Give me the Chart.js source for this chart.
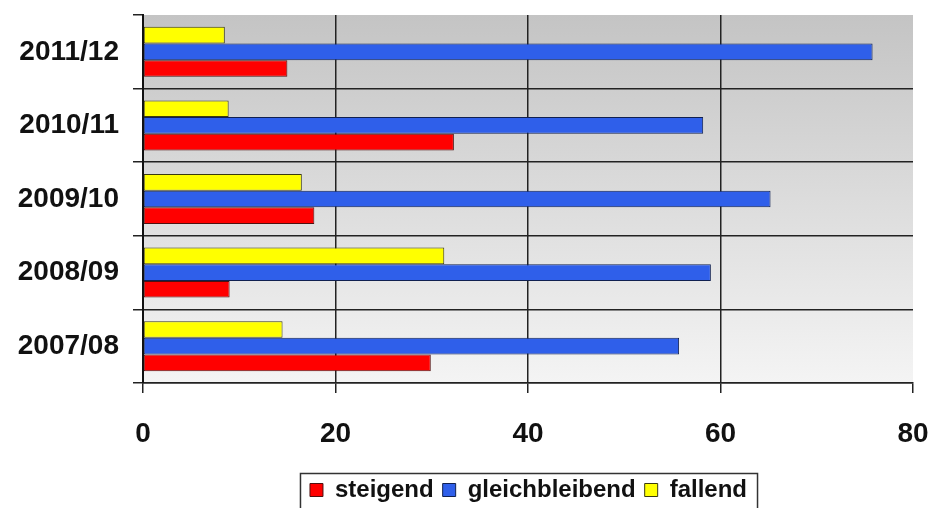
<!DOCTYPE html>
<html>
<head>
<meta charset="utf-8">
<script src="https://cdn.jsdelivr.net/npm/chart.js@4"></script>
<style>
  html, body { margin: 0; padding: 0; background: #fff; }
  #wrap { width: 931px; height: 508px; }
</style>
</head>
<body>
<div id="wrap"><canvas id="chart" width="931" height="508"></canvas></div>
<script>
// seasons, top to bottom as in the picture
const seasons = ['2011/12', '2010/11', '2009/10', '2008/09', '2007/08'];
const steigend = [15.0, 32.3, 17.8, 9.0, 29.9];
const gleichbleibend = [75.8, 58.2, 65.2, 59.0, 55.7];
const fallend = [8.5, 8.9, 16.5, 31.3, 14.5];
const xTicks = [0, 20, 40, 60, 80];

// grey gradient behind the plot + white page
const plotBackground = {
    id: 'plotBackground',
    beforeDraw(chart) {
        const { ctx, chartArea } = chart;
        ctx.save();
        ctx.fillStyle = '#fff';
        ctx.fillRect(0, 0, chart.width, chart.height);
        const g = ctx.createLinearGradient(0, chartArea.top, 0, chartArea.bottom);
        g.addColorStop(0, '#c4c4c4');
        g.addColorStop(1, '#f4f4f4');
        ctx.fillStyle = g;
        ctx.fillRect(chartArea.left, chartArea.top, chartArea.right - chartArea.left, chartArea.bottom - chartArea.top);
        ctx.restore();
    }
};

// legend sits centred under the plot, not the canvas; framed
const legendFrame = {
    id: 'legendFrame',
    beforeDraw(chart) {
        const lg = chart.legend;
        const boxes = lg && lg.legendHitBoxes;
        if (!boxes || !boxes.length) return;
        const minL = Math.min(...boxes.map(b => b.left));
        const maxR = Math.max(...boxes.map(b => b.left + b.width));
        const dx = Math.round((chart.chartArea.left + chart.chartArea.right) / 2 - (minL + maxR) / 2);
        const dy = 478 - Math.min(...boxes.map(b => b.top));
        lg.left += dx; lg.right += dx;
        lg.top += dy; lg.bottom += dy;
        boxes.forEach(b => { b.left += dx; b.top += dy; });
    },
    afterDraw(chart) {
        const boxes = chart.legend && chart.legend.legendHitBoxes;
        if (!boxes || !boxes.length) return;
        const left = Math.min(...boxes.map(b => b.left)) - 10;
        const right = Math.max(...boxes.map(b => b.left + b.width)) + 10;
        const top = Math.min(...boxes.map(b => b.top)) - 5;
        const ctx = chart.ctx;
        ctx.save();
        ctx.strokeStyle = '#333';
        ctx.lineWidth = 1.5;
        ctx.strokeRect(left + 0.5, top + 0.5, right - left, chart.height + 10 - top);
        ctx.restore();
    }
};

const ctx = document.getElementById('chart').getContext('2d');
const chart = new Chart(ctx, {
    type: 'bar',
    data: {
        labels: seasons,
        datasets: [
            { label: 'fallend', data: fallend, backgroundColor: '#ffff00', borderColor: '#3a3a10' },
            { label: 'gleichbleibend', data: gleichbleibend, backgroundColor: '#2f5fea', borderColor: '#102050' },
            { label: 'steigend', data: steigend, backgroundColor: '#ff0000', borderColor: '#501010' }
        ]
    },
    options: {
        indexAxis: 'y',
        responsive: false,
        animation: false,
        devicePixelRatio: 1,
        datasets: {
            bar: { borderWidth: 1, borderSkipped: false, categoryPercentage: 0.68, barPercentage: 1.0 }
        },
        layout: { padding: { top: 15, right: 18, left: 10, bottom: 0 } },
        scales: {
            x: {
                min: 0,
                max: 80,
                afterBuildTicks: scale => { scale.ticks = xTicks.map(v => ({ value: v })); },
                grid: {
                    color: c => (c.tick && c.tick.value === 80) ? 'rgba(0,0,0,0)' : '#222',
                    tickColor: '#222',
                    tickLength: 10,
                    lineWidth: 1.5
                },
                border: { color: '#222', width: 1.5 },
                ticks: { color: '#111', font: { size: 28, weight: 'bold' }, padding: 24 },
                afterFit: scale => {
                    scale.height = 82;
                    scale.paddingLeft = 0;
                    scale.paddingRight = 0;
                }
            },
            y: {
                grid: {
                    offset: true,
                    color: c => c.index === 0 ? 'rgba(0,0,0,0)' : '#222',
                    tickColor: '#222',
                    tickLength: 10,
                    lineWidth: 1.5
                },
                border: { color: '#111', width: 2 },
                ticks: { color: '#111', font: { size: 28, weight: 'bold' }, padding: 14 },
                afterFit: scale => {
                    scale.width = 133;
                    scale.paddingTop = 0;
                    scale.paddingBottom = 0;
                }
            }
        },
        plugins: {
            legend: {
                position: 'bottom',
                reverse: true,
                labels: {
                    color: '#111',
                    font: { size: 24, weight: 'bold' },
                    boxWidth: 13,
                    boxHeight: 13,
                    padding: 9
                }
            },
            tooltip: { enabled: false }
        }
    },
    plugins: [plotBackground, legendFrame]
});
</script>
</body>
</html>
